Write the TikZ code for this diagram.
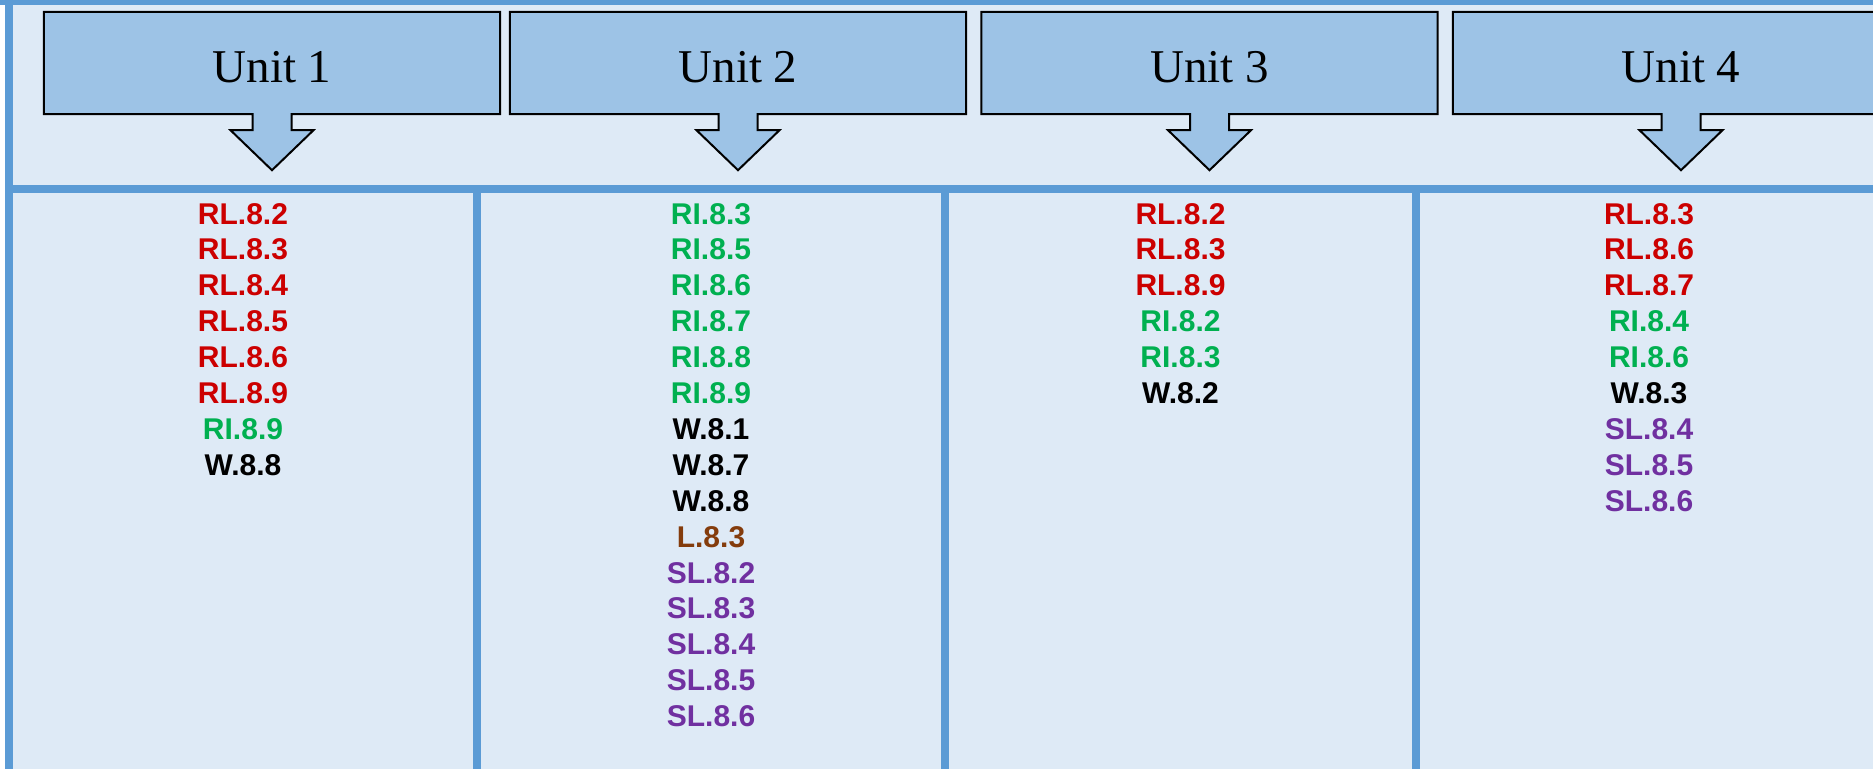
\documentclass[tikz,border=0pt]{standalone}
\usepackage{fontspec}
\newfontfamily\hdfont{Liberation Serif}
\newfontfamily\stfont{Liberation Sans}
\usetikzlibrary{calc}
\definecolor{bgblue}{HTML}{DEEAF6}
\definecolor{bdblue}{HTML}{5B9BD5}
\definecolor{hdfill}{HTML}{9DC3E6}
\definecolor{cred}{HTML}{CC0000}
\definecolor{cgrn}{HTML}{00B050}
\definecolor{cblk}{HTML}{000000}
\definecolor{cbrn}{HTML}{843C0C}
\definecolor{cpur}{HTML}{7030A0}
\tikzset{
  hdbox/.style={minimum width=456pt, minimum height=102pt, inner sep=0pt},
  hdshape/.style={draw=black, line width=2pt, fill=hdfill, line join=miter},
  hdlabel/.style={font=\hdfont\fontsize{47}{50}\selectfont, anchor=base, inner sep=0pt},
  std/.style={font=\stfont\bfseries\fontsize{30}{36}\selectfont, anchor=base, inner sep=0pt},
  bar/.style={fill=bdblue},
}
\begin{document}
\begin{tikzpicture}[x=1pt,y=-1pt]
\useasboundingbox (0,0) rectangle (1873,769);
\clip (0,0) rectangle (1873,769);
\fill[white] (0,0) rectangle (1873,769);
\fill[bgblue] (5,0) rectangle (1873,769);
% borders
\fill[bar] (0,0) rectangle (1873,5);
\fill[bar] (5,0) rectangle (13,769);
\fill[bar] (13,185) rectangle (1873,193);
\fill[bar] (473,193) rectangle (481,769);
\fill[bar] (941,193) rectangle (949,769);
\fill[bar] (1412,193) rectangle (1420,769);
% headers
\foreach \n/\cx/\lab in {1/272/Unit 1, 2/738/Unit 2, 3/1209.5/Unit 3, 4/1681/Unit 4} {
  \node[hdbox] (u\n) at (\cx,63) {};
  \draw[hdshape] (u\n.north west) -- (u\n.north east) -- (u\n.south east)
    -- ($(u\n.south)+(19.5,0)$) -- ($(u\n.south)+(19.5,16)$) -- ($(u\n.south)+(41.5,16)$)
    -- ($(u\n.south)+(0,56)$)
    -- ($(u\n.south)+(-41.5,16)$) -- ($(u\n.south)+(-19.5,16)$) -- ($(u\n.south)+(-19.5,0)$)
    -- (u\n.south west) -- cycle;
  \node[hdlabel] (l\n) at ($(u\n.center)+(0,19)$) {\lab};
}
% column 1
\foreach \c/\t [count=\i from 0] in {cred/RL.8.2, cred/RL.8.3, cred/RL.8.4, cred/RL.8.5, cred/RL.8.6, cred/RL.8.9, cgrn/RI.8.9, cblk/W.8.8}
  \node[std, text=\c] (a\i) at (243,224+35.9*\i) {\t};
% column 2
\foreach \c/\t [count=\i from 0] in {cgrn/RI.8.3, cgrn/RI.8.5, cgrn/RI.8.6, cgrn/RI.8.7, cgrn/RI.8.8, cgrn/RI.8.9, cblk/W.8.1, cblk/W.8.7, cblk/W.8.8, cbrn/L.8.3, cpur/SL.8.2, cpur/SL.8.3, cpur/SL.8.4, cpur/SL.8.5, cpur/SL.8.6}
  \node[std, text=\c] (b\i) at (711,224+35.9*\i) {\t};
% column 3
\foreach \c/\t [count=\i from 0] in {cred/RL.8.2, cred/RL.8.3, cred/RL.8.9, cgrn/RI.8.2, cgrn/RI.8.3, cblk/W.8.2}
  \node[std, text=\c] (c\i) at (1180.5,224+35.9*\i) {\t};
% column 4
\foreach \c/\t [count=\i from 0] in {cred/RL.8.3, cred/RL.8.6, cred/RL.8.7, cgrn/RI.8.4, cgrn/RI.8.6, cblk/W.8.3, cpur/SL.8.4, cpur/SL.8.5, cpur/SL.8.6}
  \node[std, text=\c] (d\i) at (1649,224+35.9*\i) {\t};
\end{tikzpicture}
\end{document}
